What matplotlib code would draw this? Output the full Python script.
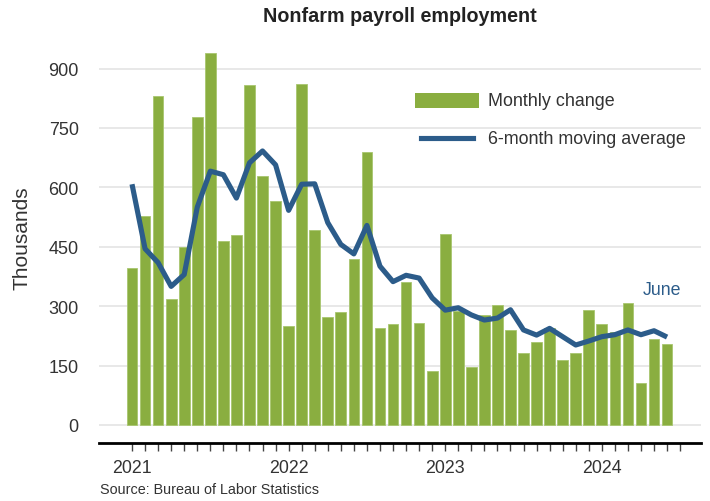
import matplotlib
matplotlib.use("Agg")
import matplotlib.pyplot as plt
from matplotlib.patches import Rectangle
from matplotlib.lines import Line2D

plt.rcParams['font.family'] = ['Liberation Sans', 'DejaVu Sans']

# Monthly change in nonfarm payroll employment (thousands), Jan 2021 - Jun 2024
monthly_change = [
    397, 527, 831, 318, 450, 778, 939, 465, 479, 859, 630, 565,   # 2021
    251, 861, 493, 272, 286, 420, 689, 244, 254, 361, 258, 136,   # 2022
    482, 288, 147, 277, 302, 239, 183, 210, 245, 164, 181, 290,   # 2023
    254, 236, 309, 107, 217, 205,                                 # 2024
]
# 6-month moving average (thousands)
moving_avg = [
    608, 445, 410, 350, 380, 550, 641, 632, 573, 662, 692, 657,
    542, 608, 609, 511, 456, 432, 504, 401, 362, 378, 371, 321,
    290, 296, 278, 265, 270, 291, 240, 227, 244, 223, 202, 212,
    223, 228, 240, 228, 238, 222,
]
year_labels = ['2021', '2022', '2023', '2024']
y_ticks = [0, 150, 300, 450, 600, 750, 900]

GREEN = '#8AAE40'
BLUE = '#2C5C8A'
TEXT = '#333333'

W, H = 710, 502
fig = plt.figure(figsize=(W / 100, H / 100), dpi=100)

x0, x1 = 99, 701
ytop, ybot = 30, 444
ax = fig.add_axes([x0 / W, (H - ybot) / H, (x1 - x0) / W, (ybot - ytop) / H])

n = len(monthly_change)
xs = list(range(n))
ax.bar(xs, monthly_change, width=0.82, color=GREEN, edgecolor='#a8c66e',
       linewidth=0.6, zorder=2)
ax.plot(xs, moving_avg, color=BLUE, linewidth=3.7, solid_joinstyle='round',
        solid_capstyle='butt', zorder=3)

ax.set_xlim(-2.53, 43.6)
ax.set_ylim(-45.5, 1000)

ax.set_yticks(y_ticks)
ax.set_yticklabels([str(v) for v in y_ticks])
ax.tick_params(axis='y', length=0, pad=14.5, labelsize=13, labelcolor=TEXT)
ax.grid(axis='y', color='#e2e2e2', linewidth=1.1, zorder=0)
ax.set_axisbelow(True)

tick_pos = list(range(n + 1))
labels = []
for i in tick_pos:
    if i % 12 == 0 and i // 12 < len(year_labels):
        labels.append(year_labels[i // 12])
    else:
        labels.append('')
ax.set_xticks(tick_pos)
ax.set_xticklabels(labels)
ax.tick_params(axis='x', length=5.5, width=1.0, color='#444444', pad=6,
               labelsize=12.8, labelcolor=TEXT, direction='out')

for s in ['left', 'right', 'top']:
    ax.spines[s].set_visible(False)
ax.spines['bottom'].set_color('black')
ax.spines['bottom'].set_linewidth(2.0)

ax.text(40.6, 342, 'June', color=BLUE, fontsize=12.8, ha='center', va='center')

# Title, y label, source
fig.text(399.5 / W, 1 - 16 / H, 'Nonfarm payroll employment', ha='center',
         va='center', fontsize=14.2, fontweight='bold', color='#222222')
fig.text(22.5 / W, 1 - 238 / H, 'Thousands', rotation=90, ha='center',
         va='center', fontsize=15, color=TEXT)
fig.text(100 / W, 1 - 490 / H, 'Source: Bureau of Labor Statistics',
         ha='left', va='center', fontsize=10.4, color=TEXT)

# Legend (manual)
fig.add_artist(Rectangle((415 / W, 1 - 109 / H), 64 / W, 15 / H,
                         transform=fig.transFigure, facecolor=GREEN,
                         edgecolor='none'))
fig.text(487.5 / W, 1 - 102 / H, 'Monthly change', ha='left', va='center',
         fontsize=12.9, color=TEXT)
fig.add_artist(Line2D([421 / W, 473 / W], [1 - 138.5 / H, 1 - 138.5 / H],
                      transform=fig.transFigure, color=BLUE, linewidth=3.7))
fig.text(487.5 / W, 1 - 139 / H, '6-month moving average', ha='left',
         va='center', fontsize=12.9, color=TEXT)

fig.savefig('out.png', dpi=100)
